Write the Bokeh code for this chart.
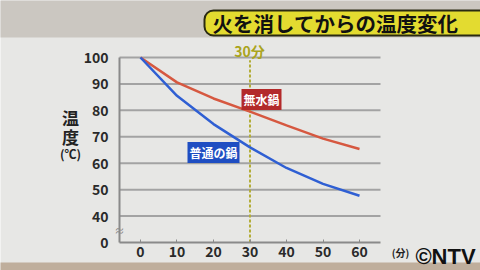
from bokeh.plotting import figure
from bokeh.models import Label, BoxAnnotation, FixedTicker, Range1d, LinearAxis
from bokeh.embed import file_html
from bokeh.resources import INLINE

# data
minutes = [0, 10, 20, 30, 40, 50, 60]
mizunashi = [100, 90.6, 84.5, 79.5, 74.3, 69.3, 65.4]   # 無水鍋
futsuu = [100, 85.5, 74.8, 66.0, 58.2, 52.2, 47.7]      # 普通の鍋
x_ticks = [0, 10, 20, 30, 40, 50, 60]
y_ticks = [30, 40, 50, 60, 70, 80, 90, 100]
y_tick_labels = {30: "0", 40: "40", 50: "50", 60: "60", 70: "70", 80: "80", 90: "90", 100: "100"}
marker_minute = 30

W, H = 480, 270
# plot-area extent in data units
AX0, AX1 = -5.75, 65.75
AY0, AY1 = 30, 100
# pixel box of plot area
L, R, T, B = 119, 380, 57, 242
kx = (R - L) / (AX1 - AX0)
ky = (B - T) / (AY1 - AY0)
X0, X1 = AX0 - L / kx, AX1 + (W - R) / kx
Y0, Y1 = AY0 - (H - B) / ky, AY1 + T / ky

def dx(px):
    return X0 + px / W * (X1 - X0)

def dy(py):
    return Y1 - py / H * (Y1 - Y0)

JP = "Noto Sans CJK JP"

p = figure(width=W, height=H, output_backend="svg", toolbar_location=None,
           x_range=Range1d(X0, X1), y_range=Range1d(Y0, Y1),
           x_axis_location=None, y_axis_location=None, min_border=0)
p.background_fill_color = "#e7e7e5"
p.border_fill_color = "#e7e7e5"
p.outline_line_color = None
p.grid.visible = False

# background strips
def box(l, r, t, b, color, line=None, lw=1, radius=0, level="underlay"):
    p.add_layout(BoxAnnotation(left=dx(l), right=dx(r), top=dy(t), bottom=dy(b),
                               fill_color=color, fill_alpha=1, line_color=line, line_width=lw,
                               line_alpha=1, border_radius=radius, level=level))

box(-5, W + 5, -5, 37, "#cbc7c1")
box(-5, W + 5, 262, H + 5, "#bfae9c")
# title banner
box(204, W + 20, 10, 35, "#e3db30", line="#2a2a12", lw=2, radius=9, level="overlay")

# horizontal grid lines within plot area
gy = y_ticks[1:]
p.segment(x0=[AX0] * len(gy), y0=gy, x1=[AX1] * len(gy), y1=gy,
          line_color="#a3a3a3", line_width=2)

# axes drawn at fixed locations
xaxis = LinearAxis(fixed_location=AY0, bounds=(AX0, AX1), ticker=FixedTicker(ticks=x_ticks))
yaxis = LinearAxis(fixed_location=AX0, bounds=(AY0, AY1), ticker=FixedTicker(ticks=y_ticks),
                   major_label_overrides=y_tick_labels)
for ax in (xaxis, yaxis):
    ax.axis_line_color = "#8a8a8a"
    ax.axis_line_width = 2
    ax.major_label_text_font = JP
    ax.major_label_text_font_style = "bold"
    ax.major_label_text_font_size = "14px"
    ax.major_label_text_color = "#2a2a2a"
    ax.minor_tick_line_color = None
xaxis.major_tick_in = 3
xaxis.major_tick_out = 0
xaxis.major_tick_line_color = "#8a8a8a"
xaxis.major_label_standoff = 3
yaxis.major_tick_line_color = None
yaxis.major_label_standoff = 5
p.add_layout(xaxis, "below")
p.add_layout(yaxis, "left")

# 30 min marker
p.segment(x0=[marker_minute], y0=[AY0], x1=[marker_minute], y1=[AY1 - 1],
          line_color="#b3ad38", line_width=2, line_dash="3 2")

p.line(minutes, mizunashi, line_color="#d65840", line_width=2.5)
p.line(minutes, futsuu, line_color="#2f5fd3", line_width=2.5)

def lab(px, py, text, size, color="#111111", style="bold", align="center", base="middle",
        font=JP, **kw):
    p.add_layout(Label(x=dx(px), y=dy(py), text=text, text_font=font, text_font_size=size,
                       text_font_style=style, text_color=color, text_align=align,
                       text_baseline=base, level="overlay", **kw))

lab(212, 22, "火を消してからの温度変化", "20.5px", align="left")

lab(249, 50, "30分", "14px", color="#aaa41c")
lab(261, 99, "無水鍋", "12px", color="white", background_fill_color="#b32a2a", padding=2)
lab(213, 152, "普通の鍋", "12px", color="white", background_fill_color="#1f4ec2", padding=2)

lab(70, 117, "温", "17px", color="#222222")
lab(70, 136, "度", "17px", color="#222222")
lab(70, 153, "(℃)", "12px", color="#222222")
lab(400, 252, "(分)", "10px", color="#222222")
lab(445, 256, "©NTV", "22px", color="#111111", font="Liberation Sans")
lab(119, 230, "≈", "10px", color="#888888", style="normal")

open("out.html", "w").write(file_html(p, INLINE))
